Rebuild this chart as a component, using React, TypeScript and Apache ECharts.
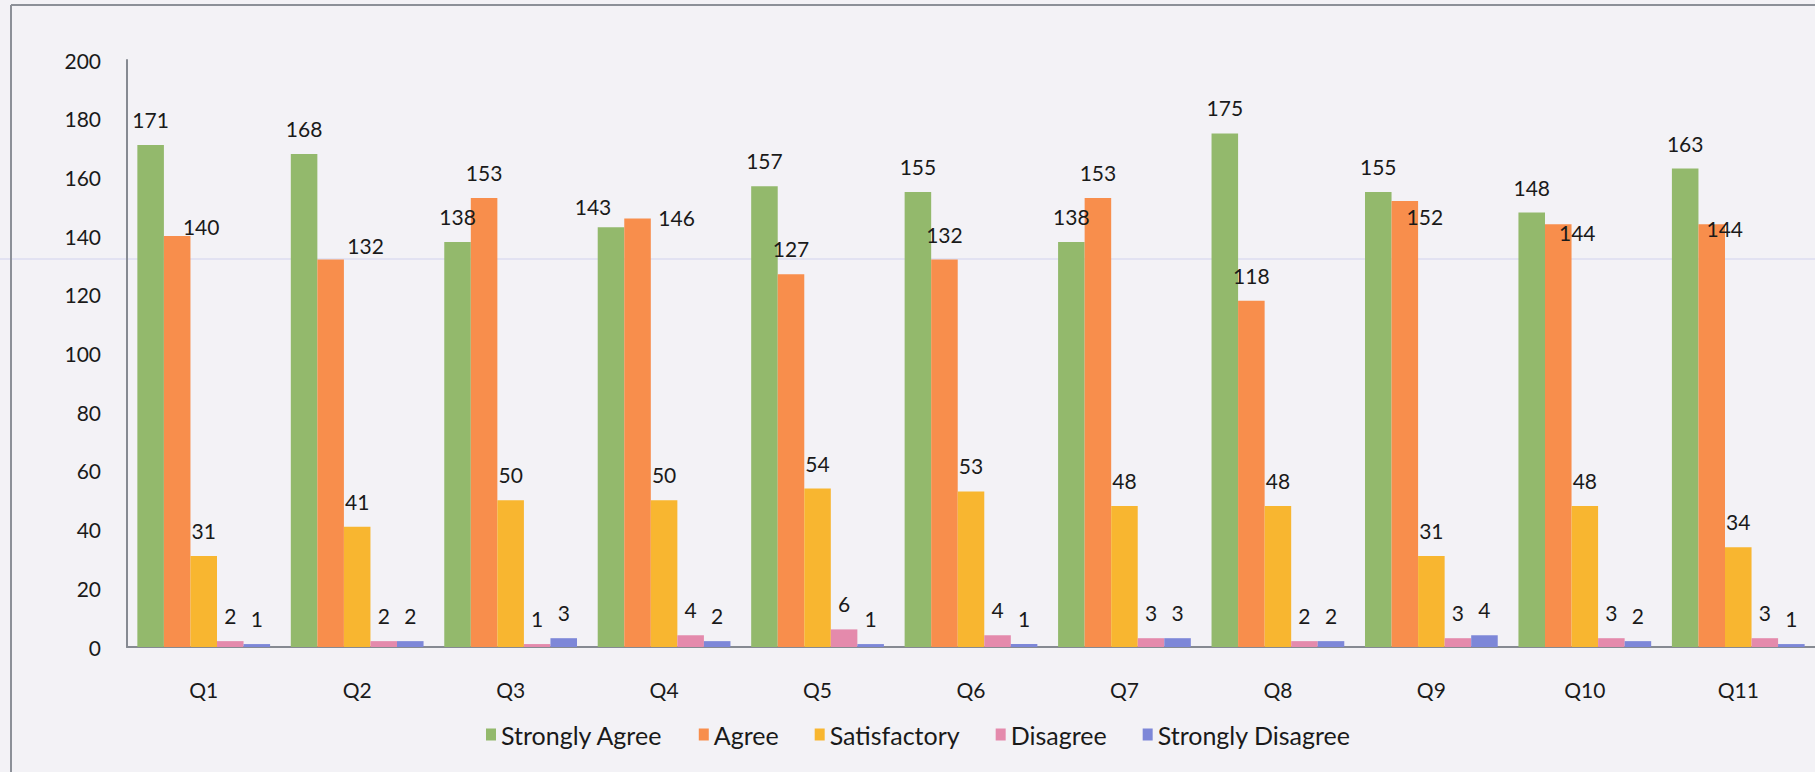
import React, { useEffect, useRef } from "react";
import * as echarts from "echarts";

const categories = ["Q1", "Q2", "Q3", "Q4", "Q5", "Q6", "Q7", "Q8", "Q9", "Q10", "Q11"];
const seriesNames = ["Strongly Agree", "Agree", "Satisfactory", "Disagree", "Strongly Disagree"];
const stronglyAgree = [171, 168, 138, 143, 157, 155, 138, 175, 155, 148, 163];
const agree = [140, 132, 153, 146, 127, 132, 153, 118, 152, 144, 144];
const satisfactory = [31, 41, 50, 50, 54, 53, 48, 48, 31, 48, 34];
const disagree = [2, 2, 1, 4, 6, 4, 3, 2, 3, 3, 3];
const stronglyDisagree = [1, 2, 3, 2, 1, 1, 3, 2, 4, 2, 1];
const yMin = 0;
const yMax = 200;
const yStep = 20;

const colors = ["#93B96C", "#F88E4C", "#F8B630", "#E48AAC", "#7D87D8"];

// manual label nudges (as placed in the original), in px
const labelNudges: Record<number, Record<number, [number, number]>> = {
  0: { 3: [-18, 5] },
  1: { 0: [24, 16], 1: [35, 11], 3: [39, 25], 8: [20, 41], 9: [19, 34], 10: [13, 30] },
};

const FONT = "Lato, 'Noto Sans', sans-serif";

export default function App() {
  const ref = useRef<HTMLDivElement>(null);
  useEffect(() => {
    if (!ref.current) return;
    const chart = echarts.init(ref.current, undefined, { renderer: "svg" });
    const all = [stronglyAgree, agree, satisfactory, disagree, stronglyDisagree];
    const series = all.map((vals, si) => ({
      name: seriesNames[si],
      type: "bar",
      barGap: "0%",
      barCategoryGap: "13.5%",
      itemStyle: { color: colors[si] },
      label: {
        show: true,
        position: "top",
        distance: 15,
        color: "#1a1a1a",
        fontSize: 21,
        fontFamily: FONT,
      },
      data: vals.map((v, i) => {
        const n = labelNudges[si] && labelNudges[si][i];
        return n ? { value: v, label: { offset: n } } : v;
      }),
    }));
    chart.setOption({
      animation: false,
      backgroundColor: "#F3F2F6",
      textStyle: { fontFamily: FONT },
      grid: { left: 127, right: 0, top: 60, bottom: 125, containLabel: false },
      legend: {
        data: seriesNames,
        left: 481,
        top: 717,
        icon: "rect",
        itemWidth: 10,
        itemHeight: 12,
        itemGap: 36,
        textStyle: { fontSize: 25, color: "#1a1a1a", fontFamily: FONT },
      },
      xAxis: {
        type: "category",
        data: categories,
        axisTick: { show: false },
        axisLine: { lineStyle: { color: "#868A92", width: 2 } },
        axisLabel: { margin: 32, fontSize: 21, color: "#1a1a1a", fontFamily: FONT },
      },
      yAxis: {
        type: "value",
        min: yMin,
        max: yMax,
        interval: yStep,
        splitLine: { show: false },
        axisTick: { show: false },
        axisLine: { show: true, lineStyle: { color: "#868A92", width: 2 } },
        axisLabel: { margin: 26, fontSize: 21, color: "#1a1a1a", fontFamily: FONT },
      },
      graphic: [
        {
          type: "line",
          shape: { x1: 11, y1: 5, x2: 1815, y2: 5 },
          style: { stroke: "#8C9098", lineWidth: 2 },
        },
        {
          type: "line",
          shape: { x1: 11, y1: 5, x2: 11, y2: 772 },
          style: { stroke: "#8C9098", lineWidth: 2 },
        },
        {
          type: "line",
          shape: { x1: 0, y1: 259, x2: 1815, y2: 259 },
          style: { stroke: "#DCDCF0", lineWidth: 1.5 },
          z: -1,
        },
      ],
      series,
    });
    return () => chart.dispose();
  }, []);
  return (
    <div
      ref={ref}
      style={{ position: "absolute", left: 0, top: 0, width: 1815, height: 772 }}
    />
  );
}
